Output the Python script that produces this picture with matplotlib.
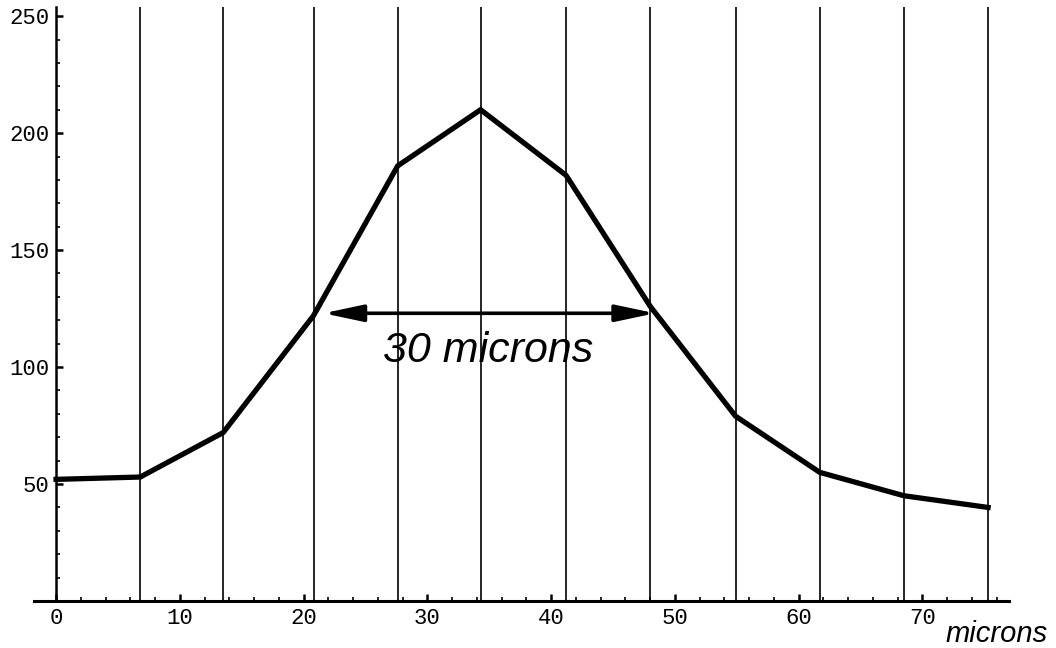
import matplotlib
matplotlib.use("Agg")
import matplotlib.pyplot as plt
from matplotlib.ticker import MultipleLocator

# positions of the sampled profile (microns) and intensities
x_microns = [0, 6.8, 13.5, 20.8, 27.6, 34.3, 41.2, 48.0, 54.9, 61.7, 68.5, 75.3]
intensity = [52, 53, 72, 122, 186, 210, 182, 126, 79, 55, 45, 40]
x_ticks = [0, 10, 20, 30, 40, 50, 60, 70]
y_ticks = [50, 100, 150, 200, 250]
fwhm_left, fwhm_right, fwhm_level = 21.6, 48.4, 123
fwhm_label = "30 microns"
x_unit = "microns"

MONO = "Liberation Mono"
SANS = "Liberation Sans"

fig = plt.figure(figsize=(10.56, 6.48), dpi=100)
ax = fig.add_axes([0.032, 0.0725, 0.9236, 0.917])
ax.set_xlim(-1.8, 77)
ax.set_ylim(0, 254)

# grid lines at every sample
ax.vlines(x_microns[1:], 0, 254, color='black', linewidth=1.2, zorder=1)

ax.plot(x_microns, intensity, color='black', linewidth=3.8,
        solid_joinstyle='miter', zorder=3)

ax.annotate('', xy=(fwhm_left, fwhm_level), xytext=(fwhm_right, fwhm_level),
            arrowprops=dict(arrowstyle='<|-|>,head_length=0.8,head_width=0.17',
                            mutation_scale=30, lw=2.6, color='black',
                            shrinkA=0, shrinkB=0), zorder=4)
ax.text(34.9, 107, fwhm_label, fontsize=31, style='italic', family=SANS,
        ha='center', va='center')

for s in ['top', 'right']:
    ax.spines[s].set_visible(False)
ax.spines['left'].set_position(('data', 0))
ax.spines['left'].set_linewidth(1.8)
ax.spines['bottom'].set_linewidth(2.2)

ax.set_xticks(x_ticks)
ax.set_yticks(y_ticks)
ax.xaxis.set_minor_locator(MultipleLocator(2))
ax.yaxis.set_minor_locator(MultipleLocator(10))
ax.tick_params(which='major', direction='in', length=5, width=1.8, pad=5)
ax.tick_params(which='minor', direction='in', length=3, width=1.2)
for lab in ax.get_xticklabels() + ax.get_yticklabels():
    lab.set_family(MONO)
    lab.set_fontsize(16)

ax.text(71.9, -14, x_unit, fontsize=21, style='italic', family=SANS,
        ha='left', va='center', clip_on=False)

fig.savefig('out.png', dpi=100)
